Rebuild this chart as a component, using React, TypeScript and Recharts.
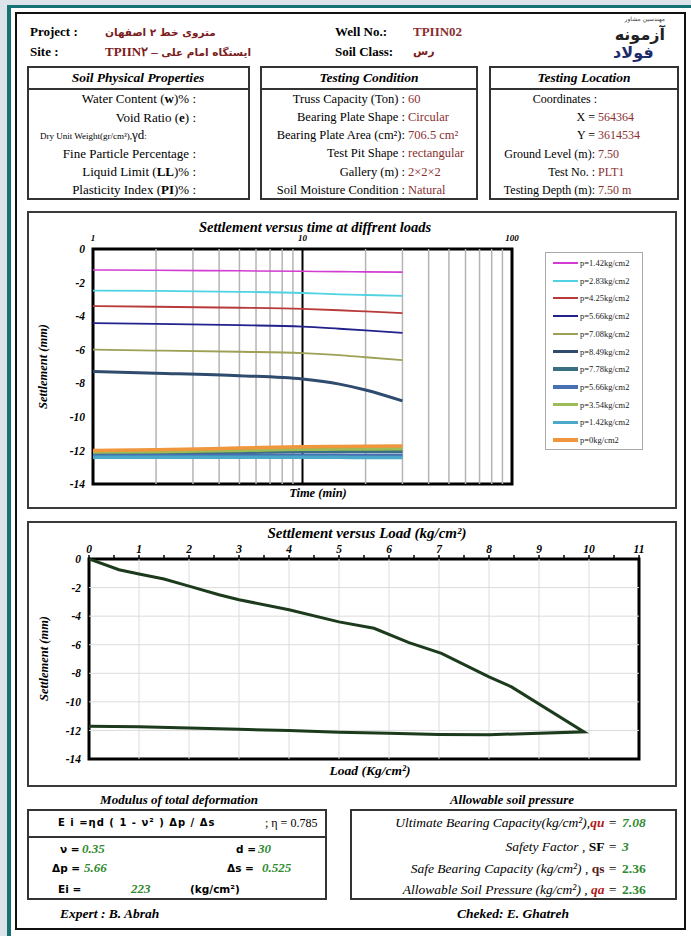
import React from "react";
import { LineChart, Line, XAxis, YAxis, ReferenceLine, ReferenceArea } from "recharts";

const SERIF = '"Liberation Serif", "Times New Roman", serif';
const SANS = '"DejaVu Sans", sans-serif';
const BROWN = "#8a3030";
const GREEN = "#2f8a2f";

// settlement versus time (min), one array per load step
const TIMES = [1, 2, 5, 10, 15, 20, 30];
const S_142 = [-1.25, -1.27, -1.3, -1.33, -1.35, -1.36, -1.38];
const S_283 = [-2.48, -2.5, -2.55, -2.62, -2.7, -2.74, -2.79];
const S_425 = [-3.4, -3.44, -3.5, -3.57, -3.65, -3.72, -3.82];
const S_566 = [-4.42, -4.46, -4.54, -4.62, -4.75, -4.85, -5.0];
const S_708 = [-6.0, -6.05, -6.12, -6.2, -6.32, -6.45, -6.62];
const S_849 = [-7.3, -7.4, -7.55, -7.75, -8.05, -8.4, -9.05];
const U_778 = [-12.2, -12.18, -12.12, -12.07, -12.06, -12.05, -12.05];
const U_566 = [-12.3, -12.3, -12.29, -12.28, -12.28, -12.28, -12.28];
const U_354 = [-12.1, -12.08, -12.0, -11.93, -11.92, -11.91, -11.9];
const U_142 = [-12.4, -12.4, -12.4, -12.41, -12.41, -12.42, -12.42];
const U_0 = [-12.0, -11.96, -11.86, -11.78, -11.76, -11.75, -11.74];

const LOAD_NAMES = [
  "p=1.42kg/cm2", "p=2.83kg/cm2", "p=4.25kg/cm2", "p=5.66kg/cm2", "p=7.08kg/cm2", "p=8.49kg/cm2",
  "p=7.78kg/cm2", "p=5.66kg/cm2", "p=3.54kg/cm2", "p=1.42kg/cm2", "p=0kg/cm2",
];
const LOAD_COLORS = [
  "#d23cd2", "#4fd3e2", "#b83a3a", "#22228c", "#9ea055", "#2f4b6e",
  "#3a6e82", "#4670b0", "#9dbb56", "#4ba8c8", "#f0963c",
];
const LINE_W = [1.6, 1.8, 1.8, 1.8, 1.8, 3, 3.5, 3.5, 3.5, 3.5, 3.5];
const SERIES_VALUES = [S_142, S_283, S_425, S_566, S_708, S_849, U_778, U_566, U_354, U_142, U_0];

const TIME_TICKS = [1, 10, 100];
const TIME_GRID = [2, 3, 4, 5, 6, 7, 8, 9, 20, 30, 40, 50, 60, 70, 80, 90];
const SETTLE_TICKS = [0, -2, -4, -6, -8, -10, -12, -14];

// settlement versus load (kg/cm2): loading then unloading
const LOADS = [0, 0.6, 1, 1.5, 2, 2.6, 3, 4, 5, 5.7, 6.4, 7.05, 8, 8.45, 9.9, 8, 7, 6, 5, 4, 3, 2, 1, 0];
const SETTLEMENTS = [
  0, -0.75, -1.05, -1.4, -1.9, -2.5, -2.85, -3.55, -4.4, -4.85, -5.85, -6.6, -8.25, -8.95, -12.1,
  -12.3, -12.28, -12.2, -12.12, -12.0, -11.92, -11.83, -11.75, -11.7,
];
const LOAD_TICKS = Array.from({ length: 23 }, (_, i) => i / 2);
const LOAD_GRID = [1, 2, 3, 4, 5, 6, 7, 8, 9, 10];
const SETTLE_GRID = [-2, -4, -6, -8, -10, -12];

const timeData = TIMES.map((t, i) => {
  const row: Record<string, number> = { t };
  SERIES_VALUES.forEach((vals, k) => (row[`s${k}`] = vals[i]));
  return row;
});
const loadData = LOADS.map((load, i) => ({ load, s: SETTLEMENTS[i] }));

const tickStyle = { fill: "#000", fontSize: 11.5, fontWeight: 700, fontStyle: "italic", fontFamily: SERIF };

function Txt({ x, y, size = 12.5, lh = 1.2, bold = false, italic = false, color = "#000", anchor = "left", rotate = false, family = SERIF, style = {}, children }: any) {
  const s: React.CSSProperties = {
    position: "absolute",
    top: y - (size * lh) / 2,
    lineHeight: `${size * lh}px`,
    fontSize: size,
    fontWeight: bold ? 700 : 400,
    fontStyle: italic ? "italic" : "normal",
    color,
    fontFamily: family,
    whiteSpace: "nowrap",
    ...style,
  };
  if (anchor === "left") s.left = x;
  else if (anchor === "right") s.right = 691 - x;
  else {
    s.left = x;
    s.transform = "translateX(-50%)" + (rotate ? " rotate(-90deg)" : "");
  }
  return <div style={s}>{children}</div>;
}

function Box({ x, y, w, h, border = "2px solid #333" }: any) {
  return <div style={{ position: "absolute", left: x, top: y, width: w, height: h, border, boxSizing: "border-box" }} />;
}

function HLine({ x, y, w, h = 1.5 }: any) {
  return <div style={{ position: "absolute", left: x, top: y, width: w, height: h, background: "#333" }} />;
}

function TimeChart() {
  return (
    <div style={{ position: "absolute", left: 27, top: 211 }}>
      <LineChart width={650} height={298} data={timeData} margin={{ top: 18, right: 165, bottom: 25, left: 0 }}>
        <XAxis
          dataKey="t"
          type="number"
          scale="log"
          domain={[1, 100]}
          ticks={TIME_TICKS}
          orientation="top"
          height={20}
          axisLine={false}
          tickLine={false}
          tick={{ ...tickStyle, fontSize: 9 }}
          allowDataOverflow
        />
        <YAxis
          type="number"
          domain={[-14, 0]}
          ticks={SETTLE_TICKS}
          width={66}
          axisLine={false}
          tickLine={false}
          tick={tickStyle}
        />
        {TIME_GRID.map((v) => (
          <ReferenceLine key={v} x={v} stroke="#b4b4b4" strokeWidth={1.5} />
        ))}
        <ReferenceLine x={10} stroke="#000" strokeWidth={2} />
        {SERIES_VALUES.map((_, k) => (
          <Line
            key={k}
            dataKey={`s${k}`}
            type="monotone"
            stroke={LOAD_COLORS[k]}
            strokeWidth={LINE_W[k]}
            dot={false}
            isAnimationActive={false}
          />
        ))}
        <ReferenceArea x1={1} x2={100} y1={-14} y2={0} fill="none" stroke="#000" strokeWidth={3} />
      </LineChart>
    </div>
  );
}

function LoadChart() {
  return (
    <div style={{ position: "absolute", left: 27, top: 521 }}>
      <LineChart width={650} height={266} data={loadData} margin={{ top: 18, right: 38, bottom: 28, left: 0 }}>
        <XAxis
          dataKey="load"
          type="number"
          domain={[0, 11]}
          ticks={LOAD_TICKS}
          tickFormatter={(v) => (Number.isInteger(v) ? String(v) : "")}
          orientation="top"
          height={20}
          axisLine={false}
          tickLine={{ stroke: "#000", strokeWidth: 1.5 }}
          tickSize={4}
          tick={tickStyle}
          allowDataOverflow
        />
        <YAxis
          type="number"
          domain={[-14, 0]}
          ticks={SETTLE_TICKS}
          width={62}
          axisLine={false}
          tickLine={false}
          tick={tickStyle}
        />
        {LOAD_GRID.map((v) => (
          <ReferenceLine key={`x${v}`} x={v} stroke="#dcdcdc" strokeWidth={1} />
        ))}
        {SETTLE_GRID.map((v) => (
          <ReferenceLine key={`y${v}`} y={v} stroke="#dcdcdc" strokeWidth={1} />
        ))}
        <Line dataKey="s" type="linear" stroke="#1c3a1c" strokeWidth={3} dot={false} isAnimationActive={false} />
        <ReferenceArea x1={0} x2={11} y1={-14} y2={0} fill="none" stroke="#000" strokeWidth={3} />
      </LineChart>
    </div>
  );
}

function TimeLegend() {
  return (
    <div style={{ position: "absolute", left: 545, top: 252, width: 98, height: 198, border: "1px solid #aaa", boxSizing: "border-box", background: "#fff" }}>
      {LOAD_NAMES.map((name, i) => (
        <div key={i} style={{ position: "absolute", left: 7, top: 4 + i * 17.7, height: 12, display: "flex", alignItems: "center" }}>
          <span style={{ display: "inline-block", width: 25, height: i < 5 ? 2 : 3.5, background: LOAD_COLORS[i] }} />
          <span style={{ fontSize: 8.5, marginLeft: 2, fontFamily: SERIF, color: "#222" }}>{name}</span>
        </div>
      ))}
    </div>
  );
}

export default function App() {
  const box2 = [
    ["Truss Capacity (Ton) :", "60"],
    ["Bearing Plate Shape :", "Circular"],
    ["Bearing Plate Area (cm²):", "706.5 cm²"],
    ["Test Pit Shape :", "rectangular"],
    ["Gallery (m) :", "2×2×2"],
    ["Soil Moisture Condition :", "Natural"],
  ];
  const box3 = [
    ["X =", "564364"],
    ["Y =", "3614534"],
    ["Ground Level (m):", "7.50"],
    ["Test No. :", "PLT1"],
    ["Testing Depth (m):", "7.50 m"],
  ];
  const rowY = [99, 117.3, 135.5, 153.7, 172, 190.2];
  return (
    <div style={{ position: "absolute", left: 0, top: 0, width: 691, height: 936, background: "#dde3ea", overflow: "hidden", fontFamily: SERIF }}>
      <div style={{ position: "absolute", left: 7, top: 5, width: 720, height: 960, background: "#fff", borderLeft: "4px solid #177373", borderTop: "3px solid #177373" }} />
      <Box x={15} y={12} w={671} h={918} border="2px solid #111" />

      {/* header */}
      <Txt x={30} y={32} size={13} bold>Project :</Txt>
      <Txt x={105} y={32} size={10.5} bold family={SANS} color="#7a2020">متروی خط ۲ اصفهان</Txt>
      <Txt x={335} y={32} size={13} bold>Well No.:</Txt>
      <Txt x={413} y={32} size={13} bold color={BROWN}>TPIIN02</Txt>
      <Txt x={30} y={52} size={13} bold>Site :</Txt>
      <Txt x={105} y={52} size={10.5} bold color="#7a2020">
        <span style={{ fontFamily: SERIF, fontSize: 13 }}>TPIIN۲ – </span>
        <span style={{ fontFamily: SANS }}>ایستگاه امام علی</span>
      </Txt>
      <Txt x={335} y={52} size={13} bold>Soil Class:</Txt>
      <Txt x={413} y={52} size={11} bold family={SANS} color="#7a2020">رس</Txt>
      <Txt x={665} y={19} size={6} lh={1} family={SANS} anchor="right" color="#444">مهندسین مشاور</Txt>
      <Txt x={665} y={35} size={16} lh={1} bold family={SANS} anchor="right" color="#222">آزمونه</Txt>
      <Txt x={613} y={53} size={16} lh={1} bold family={SANS} color="#1c2b6b">فولاد</Txt>

      {/* info boxes */}
      <Box x={27} y={66} w={223} h={134} />
      <HLine x={27} y={88} w={223} />
      <Txt x={138} y={78} size={13.5} bold italic anchor="center">Soil Physical Properties</Txt>
      <Txt x={196} y={rowY[0]} size={13} anchor="right">Water Content (<b>w</b>)% :</Txt>
      <Txt x={196} y={rowY[1]} size={13} anchor="right">Void Ratio (<b>e</b>) :</Txt>
      <Txt x={40} y={rowY[2]} size={9}>Dry Unit Weight(gr/cm³),<span style={{ fontSize: 13 }}>γd</span>:</Txt>
      <Txt x={196} y={rowY[3]} size={13} anchor="right">Fine Particle Percentage :</Txt>
      <Txt x={196} y={rowY[4]} size={13} anchor="right">Liquid Limit (<b>LL</b>)% :</Txt>
      <Txt x={196} y={rowY[5]} size={13} anchor="right">Plasticity Index (<b>PI</b>)% :</Txt>

      <Box x={260} y={66} w={218} h={134} />
      <HLine x={260} y={88} w={218} />
      <Txt x={369} y={78} size={13.5} bold italic anchor="center">Testing Condition</Txt>
      {box2.map(([label, value], i) => (
        <React.Fragment key={label}>
          <Txt x={405} y={rowY[i]} size={12.5} anchor="right">{label}</Txt>
          <Txt x={408} y={rowY[i]} size={12.5} color={BROWN}>{value}</Txt>
        </React.Fragment>
      ))}

      <Box x={489} y={66} w={190} h={134} />
      <HLine x={489} y={88} w={190} />
      <Txt x={584} y={78} size={13.5} bold italic anchor="center">Testing Location</Txt>
      <Txt x={597} y={rowY[0]} size={12} anchor="right">Coordinates :</Txt>
      {box3.map(([label, value], i) => (
        <React.Fragment key={label}>
          <Txt x={595} y={rowY[i + 1]} size={12} anchor="right">{label}</Txt>
          <Txt x={598} y={rowY[i + 1]} size={12} color={BROWN}>{value}</Txt>
        </React.Fragment>
      ))}

      {/* settlement vs time */}
      <Box x={27} y={211} w={650} h={298} border="2px solid #3a3a3a" />
      <TimeChart />
      <TimeLegend />
      <Txt x={315} y={227} size={14.5} lh={1} bold italic anchor="center">Settlement versus time at diffrent loads</Txt>
      <Txt x={318} y={493} size={12.5} bold italic anchor="center">Time (min)</Txt>
      <Txt x={43} y={366} size={12.5} bold italic anchor="center" rotate>Settlement (mm)</Txt>

      {/* settlement vs load */}
      <Box x={27} y={521} w={650} h={266} border="2px solid #3a3a3a" />
      <LoadChart />
      <Txt x={367} y={533} size={15} lh={1} bold italic anchor="center">Settlement versus Load (kg/cm²)</Txt>
      <Txt x={370} y={771} size={13.5} bold italic anchor="center">Load (Kg/cm²)</Txt>
      <Txt x={44} y={658} size={12.5} bold italic anchor="center" rotate>Settlement (mm)</Txt>

      {/* modulus */}
      <Txt x={179} y={800} size={13} bold italic anchor="center">Modulus of total deformation</Txt>
      <Box x={27} y={809} w={300} h={91} />
      <HLine x={27} y={836} w={300} />
      <Txt x={58} y={823} size={10} bold family={SANS} style={{ letterSpacing: 1 }}>E i =ηd ( 1 - ν² ) Δp / Δs</Txt>
      <Txt x={265} y={823} size={12}>; η = 0.785</Txt>
      <Txt x={60} y={849} size={10.5} bold family={SANS}>ν =</Txt>
      <Txt x={82} y={849} size={13} bold italic color={GREEN}>0.35</Txt>
      <Txt x={236} y={849} size={10.5} bold family={SANS}>d =</Txt>
      <Txt x={258} y={849} size={13} bold italic color={GREEN}>30</Txt>
      <Txt x={52} y={868} size={10.5} bold family={SANS}>Δp =</Txt>
      <Txt x={84} y={868} size={13} bold italic color={GREEN}>5.66</Txt>
      <Txt x={227} y={868} size={10.5} bold family={SANS}>Δs =</Txt>
      <Txt x={262} y={868} size={13} bold italic color={GREEN}>0.525</Txt>
      <Txt x={58} y={889} size={10.5} bold family={SANS}>Ei =</Txt>
      <Txt x={131} y={889} size={13} bold italic color={GREEN}>223</Txt>
      <Txt x={190} y={889} size={10.5} bold family={SANS}>(kg/cm²)</Txt>

      {/* allowable pressure */}
      <Txt x={512} y={800} size={13} bold italic anchor="center">Allowable soil pressure</Txt>
      <Box x={350} y={809} w={327} h={91} />
      <Txt x={617} y={823} size={13.5} italic anchor="right">Ultimate Bearing Capacity(kg/cm²),<b style={{ color: "#b01818" }}>qu</b> =</Txt>
      <Txt x={622} y={823} size={13.5} bold italic color={GREEN}>7.08</Txt>
      <Txt x={617} y={847} size={13.5} italic anchor="right">Safety Factor , <b style={{ fontStyle: "normal" }}>SF</b> =</Txt>
      <Txt x={622} y={847} size={13.5} bold italic color={GREEN}>3</Txt>
      <Txt x={617} y={869} size={13.5} italic anchor="right">Safe Bearing Capacity (kg/cm²) , <b style={{ fontStyle: "normal", color: "#5a1a1a" }}>qs</b> =</Txt>
      <Txt x={622} y={869} size={13.5} bold color={GREEN}>2.36</Txt>
      <Txt x={617} y={890} size={13.5} italic anchor="right">Allowable Soil Pressure (kg/cm²) , <b style={{ color: "#b01818" }}>qa</b> =</Txt>
      <Txt x={622} y={890} size={13.5} bold color={GREEN}>2.36</Txt>

      <Txt x={60} y={914} size={13.5} bold italic>Expert : B. Abrah</Txt>
      <Txt x={513} y={914} size={13.5} bold italic anchor="center">Cheked:  E. Ghatreh</Txt>
    </div>
  );
}
